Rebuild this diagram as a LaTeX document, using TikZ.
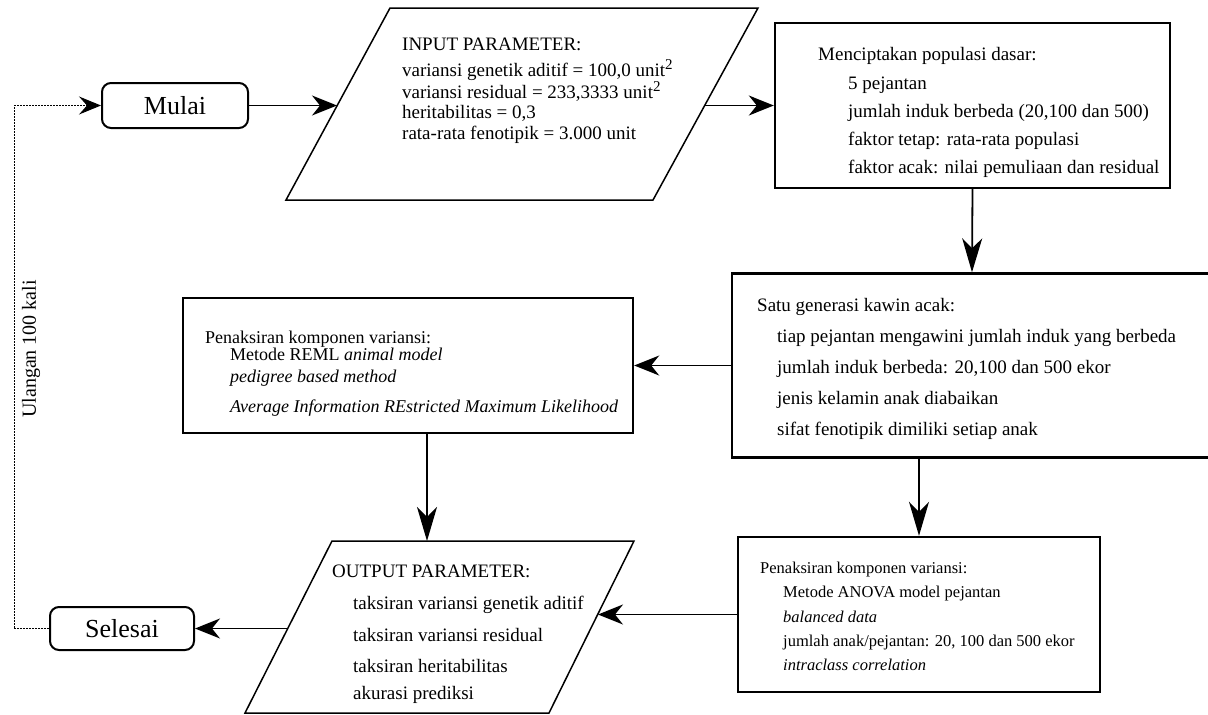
\documentclass[tikz,border=0pt]{standalone}
\usepackage{fontspec}
\setmainfont{Liberation Serif}
\usetikzlibrary{arrows.meta}
\begin{document}
\begin{tikzpicture}[x=1pt,y=-1pt,
  box/.style={draw,line width=2.4pt,inner sep=0pt},
  term/.style={draw,line width=2pt,rounded corners=9pt,inner sep=0pt,font=\fontsize{26}{28}\selectfont},
  para/.style={draw,line width=1.5pt,line join=miter},
  txt/.style={anchor=north west,align=left,inner sep=0pt},
  conn/.style={line width=1.8pt,-{Stealth[length=25pt,width=20pt,inset=8pt]}},
  vconn/.style={line width=1.8pt,-{Stealth[length=34pt,width=20pt,inset=10pt]}},
  loopline/.style={line width=1pt,dash pattern=on 2pt off 1pt,-{Stealth[length=22pt,width=18pt,inset=8pt]}}]
\useasboundingbox (0,0) rectangle (1208,715);

% terminals
\node[term, minimum width=146pt, minimum height=45pt] (mulai) at (175,105.5) {Mulai};
\node[term, minimum width=144pt, minimum height=43pt] (selesai) at (122,628.5) {Selesai};

% input parallelogram
\draw[para] (286,200) coordinate (inBL) -- (390,8) coordinate (inTL) -- (758,8) coordinate (inTR) -- (653,200) coordinate (inBR) -- cycle;
\coordinate (inL) at (337,105.5);
\coordinate (inR) at (705,105.5);

% output parallelogram
\draw[para] (245,713) coordinate (outBL) -- (332,541) coordinate (outTL) -- (634,541) coordinate (outTR) -- (549,713) coordinate (outBR) -- cycle;
\coordinate (outT) at (427,541);
\coordinate (outR) at (598,614.5);
\coordinate (outL) at (288,628.5);

% process boxes
\node[box, minimum width=395pt, minimum height=165pt] (cip) at (972.5,105.5) {};
\node[box, minimum width=480pt, minimum height=184pt] (satu) at (972,365.5) {};
\node[box, minimum width=450pt, minimum height=135pt] (reml) at (408,365.5) {};
\node[box, minimum width=362pt, minimum height=155pt] (anova) at (919,614.5) {};

% texts
\node[txt, font=\fontsize{19}{20.5}\selectfont] (inTxt) at (402,38)
 {INPUT PARAMETER:\\[5pt]
  variansi genetik aditif = 100,0 unit\raisebox{7pt}{\fontsize{15}{15}\selectfont 2}\\
  variansi residual = 233,3333 unit\raisebox{7pt}{\fontsize{15}{15}\selectfont 2}\\
  heritabilitas = 0,3\\
  rata-rata fenotipik = 3.000 unit};

\node[txt, font=\fontsize{19}{28.2}\selectfont] (cipTxt) at (818,47.5)
 {Menciptakan populasi dasar:\\
  \hspace*{30pt}5 pejantan\\
  \hspace*{30pt}jumlah induk berbeda (20,100 dan 500)\\
  \hspace*{30pt}faktor tetap: rata-rata populasi\\
  \hspace*{30pt}faktor acak: nilai pemuliaan dan residual};

\node[txt, font=\fontsize{19}{31}\selectfont] (satuTxt) at (757,298)
 {Satu generasi kawin acak:\\
  \hspace*{20pt}tiap pejantan mengawini jumlah induk yang berbeda\\
  \hspace*{20pt}jumlah induk berbeda: 20,100 dan 500 ekor\\
  \hspace*{20pt}jenis kelamin anak diabaikan\\
  \hspace*{20pt}sifat fenotipik dimiliki setiap anak};

\node[txt, font=\fontsize{18}{17}\selectfont] (remlTxt) at (205,331)
 {Penaksiran komponen variansi:\\
  \hspace*{25pt}Metode REML \textit{animal model}\\[5pt]
  \hspace*{25pt}\textit{pedigree based method}\\[13pt]
  \hspace*{25pt}\textit{Average Information REstricted Maximum Likelihood}};

\node[txt, font=\fontsize{19}{27}\selectfont] (outTxt) at (332,565)
 {OUTPUT PARAMETER:\\[5pt]
  \hspace*{21pt}taksiran variansi genetik aditif\\[5pt]
  \hspace*{21pt}taksiran variansi residual\\[4pt]
  \hspace*{21pt}taksiran heritabilitas\\
  \hspace*{21pt}akurasi prediksi};

\node[txt, font=\fontsize{16.5}{24.3}\selectfont] (anovaTxt) at (760,562)
 {Penaksiran komponen variansi:\\
  \hspace*{23pt}Metode ANOVA model pejantan\\
  \hspace*{23pt}\textit{balanced data}\\
  \hspace*{23pt}jumlah anak/pejantan: 20, 100 dan 500 ekor\\
  \hspace*{23pt}\textit{intraclass correlation}};

\node[rotate=90, inner sep=0pt, font=\fontsize{20}{22}\selectfont] (ulangan) at (31,349) {Ulangan 100 kali};

% connectors
\draw[conn] (mulai.east) -- (inL);
\draw[conn] (inR) -- (cip.west);
\draw[vconn] (cip.south) -- (satu.north);
\draw[conn] (satu.west) -- (reml.east);
\draw[vconn] (reml.south -| outT) -- (outT);
\draw[vconn] (satu.south -| anova.north) -- (anova.north);
\draw[conn] (anova.west) -- (outR);
\draw[conn] (outL) -- (selesai.east);
\coordinate (loopB) at (14,628.5);
\coordinate (loopT) at (14,105.5);
\draw[loopline] (selesai.west) -- (loopB) -- (loopT) -- (mulai.west);
\end{tikzpicture}
\end{document}
